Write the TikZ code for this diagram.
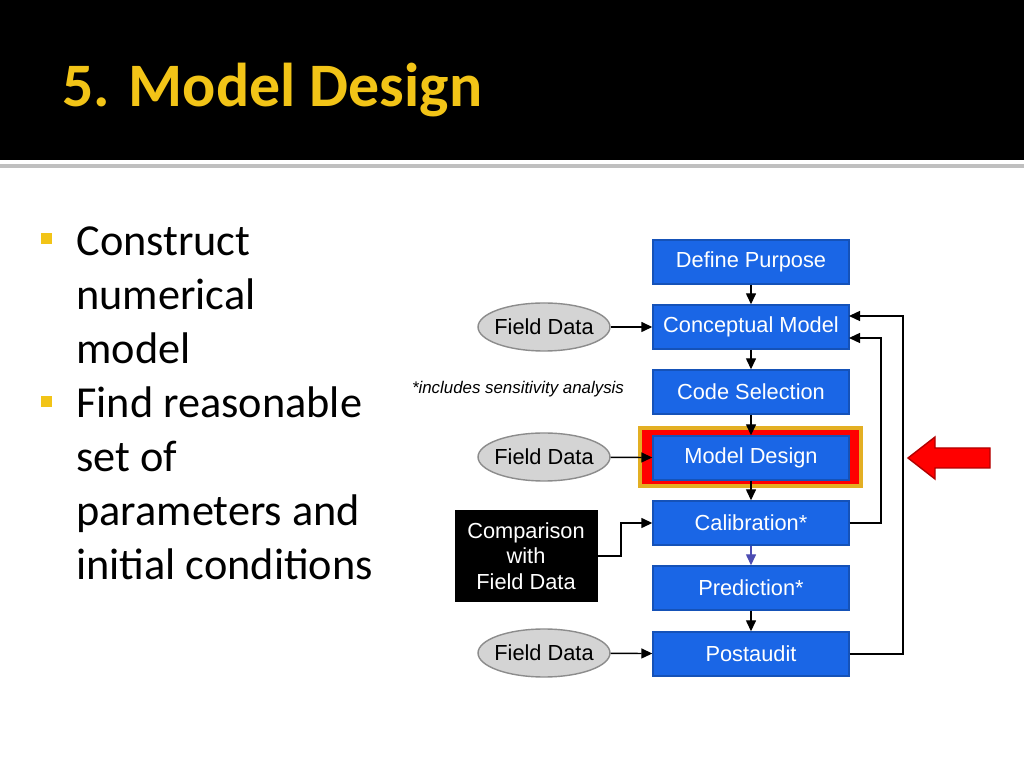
\documentclass[tikz,border=0pt]{standalone}
\usepackage{fontspec}
\setmainfont{Liberation Sans}
\newfontfamily\slidefont{Carlito}
\usetikzlibrary{shapes.geometric,arrows.meta}
\definecolor{stepblue}{HTML}{1A66E6}
\definecolor{titlegold}{HTML}{F2C417}
\tikzset{
  stepbox/.style={draw=stepblue!80!black, fill=stepblue, text=white, minimum width=1.96cm, minimum height=0.44cm, inner sep=0pt, font=\fontsize{6.2}{7}\selectfont},
  fieldbox/.style={ellipse, draw=black!45, fill=black!17, minimum height=0.48cm, inner ysep=0pt, inner xsep=-0.3mm, font=\fontsize{6.2}{7}\selectfont},
  flow/.style={-{Triangle[length=1.1mm,width=1mm]}, line width=0.4pt},
  bullet/.style={fill=titlegold, minimum size=0.11cm, inner sep=0pt}
}
\begin{document}
\begin{tikzpicture}[x=0.1mm,y=-0.1mm]

    % Fondo y cabecera
    \useasboundingbox (0,0) rectangle (1024,768);
    \fill[white] (0,0) rectangle (1024,768);
    \fill[black] (0,0) rectangle (1024,160);
    \fill[black!25] (0,164) rectangle (1024,168);
    \node[anchor=west, text=titlegold, font=\slidefont\bfseries\fontsize{17.6}{20}\selectfont] (title) at (50,90) {5. Model Design};

    % Viñetas
    \node[bullet] (b1) at (46,239) {};
    \node[bullet] (b2) at (46,402) {};
    \node[anchor=north west, align=left, font=\slidefont\fontsize{12.6}{15.4}\selectfont] (list) at (64,214)
        {Construct\\numerical\\model\\Find reasonable\\set of\\parameters and\\initial conditions};

    % Marco de la etapa actual
    \fill[titlegold!70!brown] (638,426) rectangle (863,488);
    \fill[red] (642,430) rectangle (859,484);

    % Etapas
    \node[stepbox] (purpose) at (751,262) {Define Purpose};
    \node[stepbox] (concept) at (751,327) {Conceptual Model};
    \node[stepbox] (code) at (751,392) {Code Selection};
    \node[stepbox] (design) at (751,458) {Model Design};
    \node[stepbox] (calib) at (751,523) {Calibration*};
    \node[stepbox] (predict) at (751,588) {Prediction*};
    \node[stepbox] (audit) at (751,654) {Postaudit};

    % Datos de campo
    \node[fieldbox] (field1) at (544,327) {Field Data};
    \node[fieldbox] (field2) at (544,457) {Field Data};
    \node[fieldbox] (field3) at (544,653) {Field Data};
    \node[fill=black, text=white, align=center, minimum width=1.43cm, minimum height=0.92cm, inner sep=0pt, font=\fontsize{6.2}{7.2}\selectfont] (compare) at (526,556) {Comparison\\with\\Field Data};
    \node[font=\itshape\fontsize{4.8}{5.5}\selectfont] (note) at (518,389) {*includes sensitivity analysis};

    % Flechas
    \draw[flow] (purpose) -- (concept);
    \draw[flow] (concept) -- (code);
    \draw[flow] (code) -- (design);
    \draw[flow] (design) -- (calib);
    \draw[flow, draw=blue!40!gray, fill=blue!40!gray] (calib) -- (predict);
    \draw[flow] (predict) -- (audit);
    \draw[flow] (field1) -- (concept);
    \draw[flow] (field2) -- (design);
    \draw[flow] (field3) -- (audit);
    \draw[flow] (compare.east) -- (621,556) |- (calib.west);
    \draw[flow] (calib.east) -- (881,523) |- (849,338);
    \draw[flow] (audit.east) -- (903,654) |- (849,316);

    % Flecha roja
    \fill[red, draw=red!70!black] (990,448) -- (935,448) -- (935,437) -- (908,458) -- (935,479) -- (935,468) -- (990,468) -- cycle;

\end{tikzpicture}
\end{document}
